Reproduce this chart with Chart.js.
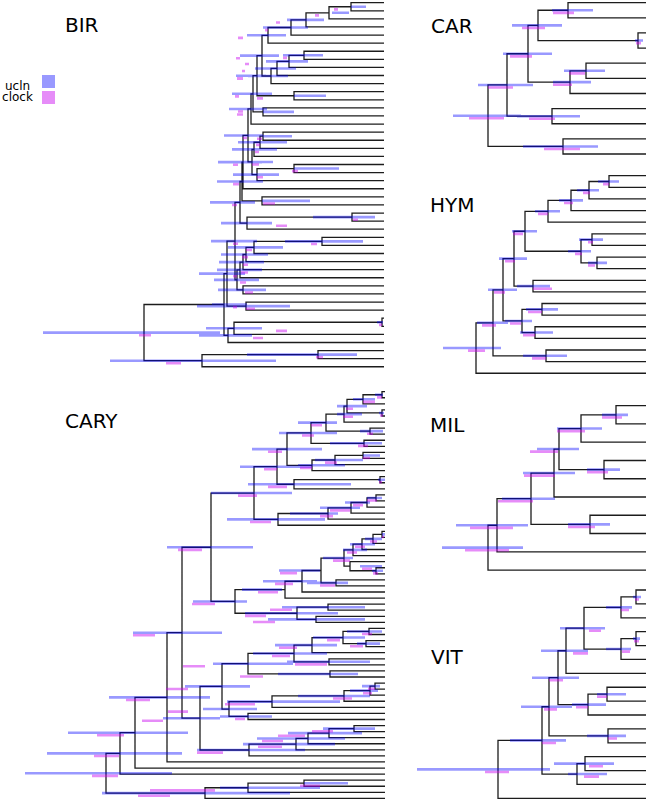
<!DOCTYPE html>
<html>
<head>
<meta charset="utf-8">
<script src="https://cdn.jsdelivr.net/npm/chart.js@4.4.1/dist/chart.umd.min.js"></script>
<style>
  html, body { margin: 0; padding: 0; background: #fff; }
  #page { position: relative; width: 646px; height: 802px; overflow: hidden; font-family: 'DejaVu Sans', sans-serif; }
  canvas { position: absolute; }
  .title { position: absolute; font-size: 20px; line-height: 20px; color: #000; white-space: nowrap; }
  .key { position: absolute; left: 0; width: 35px; font-size: 12px; line-height: 12px; text-align: center; color: #000; }
  .swatch { position: absolute; left: 42px; width: 13px; height: 13px; }
</style>
</head>
<body>
<div id="page">
  <div class="title" style="left:65px;top:15px">BIR</div>
  <div class="title" style="left:431px;top:16px">CAR</div>
  <div class="title" style="left:430px;top:195px">HYM</div>
  <div class="title" style="left:430px;top:415px">MIL</div>
  <div class="title" style="left:431px;top:647px">VIT</div>
  <div class="title" style="left:65px;top:411px">CARY</div>
  <div class="key" style="top:80px">ucln</div>
  <div class="key" style="top:91px">clock</div>
  <div class="swatch" style="top:75px;background:rgba(0,0,255,0.4)"></div>
  <div class="swatch" style="top:91px;background:rgba(200,0,240,0.45)"></div>
</div>
<script>
// Trees: each internal node has two children (number = tip index, string = node name).
// Ages are node heights (tips at 0); ucln / clock are the [young, old] age intervals.

// BIR
const birNames = ['a','b','c','d','e','g','h','i','j','k','m','l','o','p','q',
  'r','s','t','u','v','w','qw','x','a2','xp','b2','c2','y',
  'n967','n763','n737','na','nb','nc','nd','ne','n737b','nf',
  'n1145','n703','ng','n672','n955','n607','root'];
const birKids = [[0,1],['a',2],['b',3],['c',4],['d',5],[6,7],['g',8],['h',9],['i',10],['e','j'],[11,12],['k','m'],[13,14],['l','o'],['p',15],
  [16,17],['r',18],['s',19],[20,21],['u',22],['t','v'],['q','w'],['qw',23],[24,25],['x','a2'],[26,27],['b2',28],['xp','c2'],
  [29,30],['n967',31],['n763',32],['n737',33],['na',34],[35,36],['nb','nc'],['y','nd'],[37,38],['ne','n737b'],
  [39,40],['n1145',41],['n703',42],['nf','ng'],[43,44],['n955',45],['n672','n607']];
const birAge = [33,55,78,93,116,80,95,107,113,122,90,127,121,131,133,
  121,124,130,90,127,132,136,141,122,142,32,137,144,
  62,130,138,141,144,141,147,149,138,157,
  2,150,156,160,66,182,240];
const birUcln = [[18,33],[35,52],[60,97],[76,121],[98,137],[61,101],[76,118],[88,129],[96,136],[105,144],[58,90],[118,148],[90,121],[112,152],[117,155],
  [92,121],[97,146],[107,152],[45,90],[105,151],[111,163],[121,160],[122,166],[74,122],[121,167],[9,71],[112,163],[129,174],
  [21,99],[101,156],[116,163],[120,165],[122,167],[118,166],[125,170],[127,173],[94,187],[139,185],
  [1,7],[122,178],[132,185],[137,172],[27,137],[108,274],[164,341]];
const birClock = [[46,50],[65,69],[104,108],[116,119],[141,146],[97,101],[135,139],[139,142],[141,147],[144,148],[121,127],[141,147],[141,147],[145,149],[141,146],
  [122,127],[124,128],[125,129],[86,92],[121,127],[125,132],[137,141],[146,151],[109,121],[145,151],[26,31],[97,108],[147,152],
  [67,73],[132,138],[136,142],[136,141],[136,143],[131,139],[138,144],[146,151],[129,138],[147,151],
  [2,5],[97,108],[121,131],[147,151],[61,68],[203,218],[233,245]];

// CAR
const carNames = ['R','A','C','E','G','H','F','I','D','B'];
const carKids = [['A','B'],['C','D'],['E','F'],['G','H'],[0,1],[2,3],['I',6],[4,5],[7,8],[9,10]];
const carAge = [162,143,122,112,82,12,80,64,98,87];
const carUcln = [[129,197],[117,172],[98,147],[88,138],[57,98],[7,15],[59,97],[45,86],[70,133],[52,127]];
const carClock = [[146,181],[137,162],[118,140],[105,128],[76,97],[9,14],[78,97],[65,81],[95,121],[70,106]];

// HYM
const hymNames = ['R','A','B','D','H','J','L','M','N','K','O','P','I','E','F','G','C'];
const hymKids = [['A',17],['B','C'],['D','E'],['H','I'],['J','K'],['L',4],['M',3],['N',2],[0,1],['O','P'],[5,6],[7,8],[9,10],['F','G'],[11,12],[13,14],[15,16]];
const hymAge = [174,157,147,136,125,102,79,61,41,69,58,53,117,128,108,115,104];
const hymUcln = [[149,207],[142,173],[133,162],[123,151],[113,138],[90,115],[67,91],[51,73],[31,52],[59,82],[47,71],[43,62],[100,133],[118,145],[92,124],[97,130],[83,127]];
const hymClock = [[165,182],[154,168],[145,156],[135,145],[127,137],[102,112],[77,86],[60,67],[41,47],[68,75],[57,62],[55,62],[98,117],[129,140],[108,122],[115,127],[104,118]];

// MIL
const milNames = ['R','h','g','e','d','b','a','c','f'];
const milKids = [['h',9],['g',8],['e','f'],['d',5],['b','c'],['a',2],[0,1],[3,4],[6,7]];
const milAge = [162,153,119,96,91,69,34,46,60];
const milUcln = [[127,208],[122,194],[95,148],[75,127],[71,113],[48,93],[22,48],[30,63],[40,82]];
const milClock = [[141,185],[137,180],[117,152],[95,126],[92,120],[65,93],[28,48],[42,63],[55,82]];

// VIT
const vitNames = ['R','A','B','C','D','E','F','G','H','I','J','K','L','M','N'];
const vitKids = [['A',15],['B','M'],['C','L'],['D','J'],['E',6],['F','H'],['G',2],[0,1],['I',5],[3,4],['K',9],[7,8],[10,11],['N',14],[12,13]];
const vitAge = [152,108,101,92,84,66,29,14,29,14,62,43,42,73,65];
const vitUcln = [[100,233],[84,140],[78,129],[71,118],[62,109],[45,90],[18,44],[9,17],[19,44],[10,17],[44,78],[24,53],[24,63],[43,82],[36,96]];
const vitClock = [[141,165],[94,108],[93,106],[87,101],[62,77],[49,61],[21,29],[11,15],[20,28],[11,16],[62,74],[43,53],[33,42],[51,66],[47,61]];

// CARY
const caryNames = ['P1','P2','P3','P4','P5','C','A','P6','Q','R1','R2','R3','S','U1','U2','V',
  'W1','W2','W3','W4','W5','X',
  'Z1','Z2','Z3','Z4','Z5','Z5p','Zs','N437','N392','N335','N285','N415','N378','N320','N135','Y',
  'N537','N527','N460','N367','N418','N313','N420','N175',
  'N556','N540','N462','N245','N175b','N117','N97',
  'N492','N418b','N355','N318','N178','N30',
  'N545','N500','N405','N360','N343','N173','N45','root'];
const caryKids = [[0,1],['P1',2],[3,4],['P2','P3'],['P4',5],[6,7],['P5','C'],[8,9],['A','P6'],[10,11],['R1',12],['R2',13],['Q','R3'],[14,15],['U1',16],['S','U2'],
  [17,18],['W1',19],['W2',20],['W3',21],['W4',22],['V','W5'],
  [23,24],['Z1',25],['Z2',26],['Z3',27],[29,30],[28,'Z5'],['Z4','Z5p'],[31,32],['Zs','N437'],['N392',33],['N335',34],[35,36],[37,38],['N415','N378'],['N285','N320'],['X','N135'],
  [39,40],[41,42],['N537','N527'],['N460',43],[44,45],['N367','N418'],[46,47],['N313','N420'],
  [48,49],['N556',50],['N540',51],['N462',52],[53,54],['N245','N175b'],['N175','N117'],
  [55,56],['N492',57],['N418b',58],['N355',59],['N318',60],['N97','N178'],
  ['Y','N30'],['N545',61],['N500',62],['N405',63],[64,65],['N343',66],['N173',67],['N360','N45']];
const caryAge = [3,22,3,38,41,15,59,21,74,22,50,73,98,5,91,108,
  9,18,34,57,107,131,
  3,12,23,32,9,35,41,49,64,83,100,57,69,88,150,174,
  16,19,42,73,56,91,55,137,
  10,15,41,113,137,156,163,
  31,56,77,89,136,185,
  203,218,250,265,81,137,180,279];
const caryUcln = [[2,10],[10,32],[1,6],[18,48],[23,48],[2,25],[48,87],[3,55],[48,106],[5,22],[22,70],[40,87],[63,133],[0,7],[34,137],[73,145],
  [3,18],[15,40],[25,65],[47,95],[60,158],[93,174],
  [0,3],[3,20],[10,35],[18,42],[2,13],[3,25],[32,62],[37,78],[65,106],[68,122],[103,143],[20,103],[20,117],[47,140],[138,192],[132,218],
  [3,38],[5,28],[20,72],[48,110],[15,98],[58,132],[27,107],[92,172],
  [5,23],[7,35],[15,87],[45,158],[113,165],[128,182],[135,200],
  [10,62],[23,97],[40,128],[50,142],[80,188],[165,222],
  [163,252],[175,276],[197,317],[203,338],[37,81],[65,165],[95,283],[213,360]];
const caryClock = [[3,8],[10,22],[2,5],[32,39],[32,42],[12,18],[63,74],[17,27],[71,83],[15,22],[48,60],[73,85],[103,117],[3,6],[98,117],[108,121],
  [8,18],[22,32],[35,55],[52,65],[114,135],[128,147],
  [1,3],[8,15],[20,30],[28,38],[7,12],[13,23],[35,52],[50,65],[88,105],[92,110],[107,127],[93,115],[110,132],[119,140],[170,193],[183,207],
  [13,23],[22,35],[45,58],[88,106],[58,90],[95,113],[122,145],[180,202],
  [10,17],[13,22],[33,52],[130,160],[140,150],[197,217],[197,219],
  [52,73],[80,107],[102,123],[103,127],[162,188],[222,243],
  [230,252],[235,259],[261,288],[266,291],[65,85],[170,235],[215,247],[267,293]];

// where each panel sits on the page
const panels = {
  bir:  { left: 0,   top: 0,   width: 390, height: 380, tipX: 384, firstTip: 2.7,   gap: 8.09 },
  car:  { left: 400, top: 0,   width: 246, height: 165, tipX: 650, firstTip: 2.7,   gap: 15.13 },
  hym:  { left: 400, top: 165, width: 246, height: 215, tipX: 650, firstTip: 175.7, gap: 11.62 },
  mil:  { left: 400, top: 385, width: 246, height: 195, tipX: 650, firstTip: 405.7, gap: 18.26 },
  vit:  { left: 400, top: 580, width: 246, height: 222, tipX: 650, firstTip: 590,   gap: 13.89 },
  cary: { left: 0,   top: 382, width: 390, height: 420, tipX: 385, firstTip: 391.7, gap: 6.07 }
};

const gap = () => ({ x: null, y: null });

function drawTree(p, names, kids, age, ucln, clock) {
  const index = {};
  names.forEach((n, i) => { index[n] = i; });
  const ys = [];
  const yOf = c => typeof c === 'number' ? c : nodeY(index[c]);
  const ageOf = c => typeof c === 'number' ? 0 : age[index[c]];
  function nodeY(i) {
    if (ys[i] === undefined) ys[i] = (yOf(kids[i][0]) + yOf(kids[i][1])) / 2;
    return ys[i];
  }

  const lift = 2.6 / p.gap;   // clock bar sits just under the ucln bar
  const branches = [], blue = [], pink = [];
  names.forEach((n, i) => {
    const [c1, c2] = kids[i];
    const y = nodeY(i);
    branches.push({ x: ageOf(c1), y: yOf(c1) }, { x: age[i], y: yOf(c1) },
                  { x: age[i], y: yOf(c2) }, { x: ageOf(c2), y: yOf(c2) }, gap());
    blue.push({ x: ucln[i][0], y: y }, { x: ucln[i][1], y: y }, gap());
    pink.push({ x: clock[i][0], y: y + lift }, { x: clock[i][1], y: y + lift }, gap());
  });

  const cv = document.createElement('canvas');
  cv.width = p.width; cv.height = p.height;
  cv.style.left = p.left + 'px'; cv.style.top = p.top + 'px';
  cv.style.width = p.width + 'px'; cv.style.height = p.height + 'px';
  document.getElementById('page').appendChild(cv);

  const line = (data, color, w) => ({
    data: data, showLine: true, fill: false, spanGaps: false,
    borderColor: color, borderWidth: w, pointRadius: 0, pointHoverRadius: 0, pointHitRadius: 0
  });

  new Chart(cv, {
    type: 'scatter',
    data: {
      datasets: [
        line(pink, 'rgba(200,0,240,0.45)', 2.6),
        line(blue, 'rgba(0,0,255,0.4)', 2.6),
        line(branches, '#1c1c1c', 1.3)
      ]
    },
    options: {
      responsive: false,
      animation: false,
      events: [],
      layout: { padding: 0 },
      plugins: { legend: { display: false }, tooltip: { enabled: false } },
      scales: {
        x: { type: 'linear', reverse: true, display: false, bounds: 'data',
             min: p.tipX - (p.left + p.width), max: p.tipX - p.left },
        y: { type: 'linear', reverse: true, display: false, bounds: 'data',
             min: (p.top - p.firstTip) / p.gap, max: (p.top + p.height - p.firstTip) / p.gap }
      }
    }
  });
}

drawTree(panels.bir, birNames, birKids, birAge, birUcln, birClock);
drawTree(panels.car, carNames, carKids, carAge, carUcln, carClock);
drawTree(panels.hym, hymNames, hymKids, hymAge, hymUcln, hymClock);
drawTree(panels.mil, milNames, milKids, milAge, milUcln, milClock);
drawTree(panels.vit, vitNames, vitKids, vitAge, vitUcln, vitClock);
drawTree(panels.cary, caryNames, caryKids, caryAge, caryUcln, caryClock);
</script>
</body>
</html>
